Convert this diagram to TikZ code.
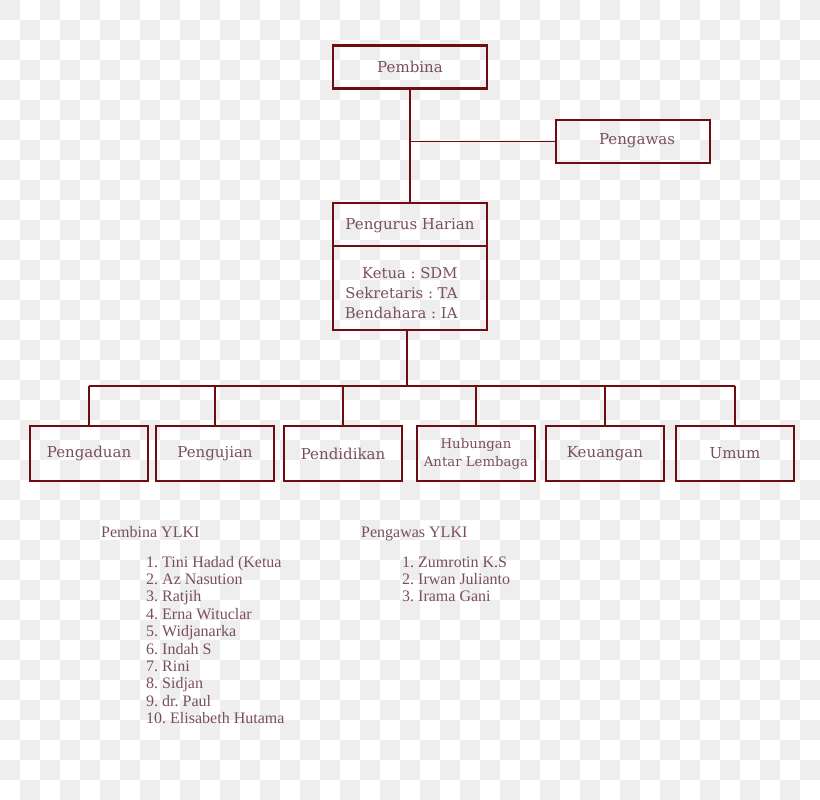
\documentclass[tikz,border=0pt]{standalone}
\usepackage{fontspec}
\setmainfont{Liberation Serif}
\newfontfamily\slabfont{DejaVu Serif}
\usetikzlibrary{positioning}
\definecolor{ylkiMaroon}{HTML}{6E0C12}
\definecolor{ylkiText}{HTML}{7A5057}
\definecolor{ylkiCheck}{HTML}{EEEEEE}
\frenchspacing

\begin{document}
\begin{tikzpicture}[x=1pt,y=-1pt,line cap=butt,line join=miter]
\useasboundingbox (0,0) rectangle (820,800);
\path[fill=white] (0,0) rectangle (820,800);
% checker background
\foreach \i in {0,2,...,40} \foreach \j in {0,2,...,38} {
  \path[fill=ylkiCheck] (\i*20,\j*20) rectangle +(20,20);
  \path[fill=ylkiCheck] (\i*20+20,\j*20+20) rectangle +(20,20);
}
\tikzset{unit/.style={draw=ylkiMaroon,line width=2.6pt,fill=none,text=ylkiText,font=\slabfont\fontsize{15}{17}\selectfont,inner sep=0pt},
  link/.style={draw=ylkiMaroon,line width=1.3pt},
  roster/.style={anchor=base west,text=ylkiText,font=\fontsize{16}{17.4}\selectfont,align=left,inner sep=0pt}}
\node[unit,minimum width=154pt,minimum height=43pt] (pembina) at (410,67) {Pembina};
\node[unit,minimum width=154pt,minimum height=43pt] (pengawas) at (633,141.5) {};
\node[text=ylkiText,font=\slabfont\fontsize{15}{17}\selectfont] (pengawasTitle) at (637,141) {Pengawas};
\node[unit,minimum width=154pt,minimum height=127pt] (harian) at (410,266.5) {};
\node[text=ylkiText,font=\slabfont\fontsize{15}{17}\selectfont] (harianTitle) at (410,226) {Pengurus Harian};
\draw[link] (harian.west |- 0,246) -- (harian.east |- 0,246);
\node[text=ylkiText,font=\slabfont\fontsize{14.8}{20}\selectfont,align=right,anchor=east] (harianList) at (461,293) {Ketua : SDM\\Sekretaris : TA\\Bendahara : IA};
% divisions
\node[unit,minimum width=118pt,minimum height=55pt] (pengaduan) at (89,453.5) {Pengaduan};
\node[unit,minimum width=118pt,minimum height=55pt] (pengujian) at (215,453.5) {Pengujian};
\node[unit,minimum width=118pt,minimum height=55pt] (pendidikan) at (343,453.5) {Pendidikan};
\node[unit,minimum width=118pt,minimum height=55pt,align=center,font=\slabfont\fontsize{13.3}{18}\selectfont] (hubungan) at (476,453.5) {Hubungan\\Antar Lembaga};
\node[unit,minimum width=118pt,minimum height=55pt] (keuangan) at (605,453.5) {Keuangan};
\node[unit,minimum width=118pt,minimum height=55pt] (umum) at (735,453.5) {Umum};
% connectors
\draw[link] (pembina) -- (harian);
\coordinate (pengawasJoint) at (410,141.5);
\draw[link] (pengawasJoint) -- (pengawas.west);
\coordinate (bus) at (407,386);
\draw[link] (harian.south -| bus) -- (bus);
\draw[link] (pengaduan.north |- bus) -- (umum.north |- bus);
\foreach \d in {pengaduan,pengujian,pendidikan,hubungan,keuangan,umum}
  \draw[link] (\d.north |- bus) -- (\d.north);
% rosters (base = last line)
\node[roster] (pembinaHead) at (101,537) {Pembina YLKI};
\node[roster] (pembinaList) at (146,723.6) {1. Tini Hadad (Ketua\\2. Az Nasution\\3. Ratjih\\4. Erna Wituclar\\5. Widjanarka\\6. Indah S\\7. Rini\\8. Sidjan\\9. dr. Paul\\10. Elisabeth Hutama};
\node[roster] (pengawasHead) at (361,537) {Pengawas YLKI};
\node[roster] (pengawasList) at (402,601.8) {1. Zumrotin K.S\\2. Irwan Julianto\\3. Irama Gani};
\end{tikzpicture}
\end{document}
